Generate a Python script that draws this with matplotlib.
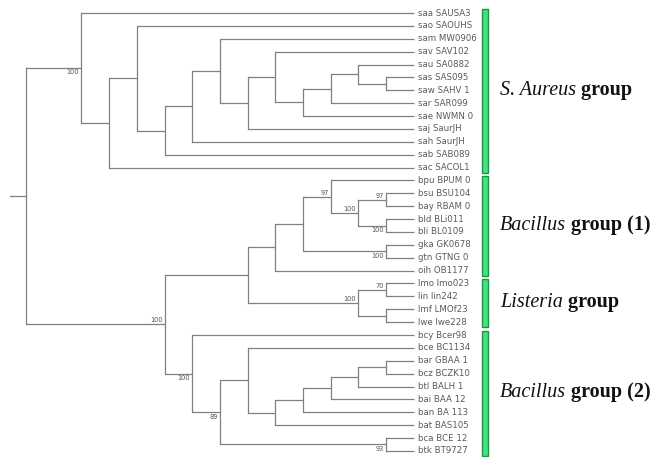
import re
import matplotlib
matplotlib.use("Agg")
import matplotlib.pyplot as plt

# tree topology (newick, bootstrap values after the closing bracket)
staph = "(saa,((sao,(((sam,((sav,(((sau,(sas,saw)),sar),sae)),saj)),sah),sab)),sac))100"
bac1 = "(((bpu,((bsu,bay)97,(bld,bli)100)100)97,(gka,gtn)100),oih)"
lister = "((lmo,lin)70,(lmf,lwe))100"
bac2 = "(bcy,((bce,(((((bar,bcz),btl),bai),ban),bat)),(bca,btk)93)89)100"
newick = "(" + staph + ",((" + bac1 + "," + lister + ")," + bac2 + ")100)"

leaf_codes = ["saa", "sao", "sam", "sav", "sau", "sas", "saw", "sar", "sae", "saj",
              "sah", "sab", "sac", "bpu", "bsu", "bay", "bld", "bli", "gka", "gtn",
              "oih", "lmo", "lin", "lmf", "lwe", "bcy", "bce", "bar", "bcz", "btl",
              "bai", "ban", "bat", "bca", "btk"]
leaf_ids = ["SAUSA3", "SAOUHS", "MW0906", "SAV102", "SA0882", "SAS095", "SAHV 1", "SAR099",
            "NWMN 0", "SaurJH", "SaurJH", "SAB089", "SACOL1", "BPUM 0", "BSU104", "RBAM 0",
            "BLi011", "BL0109", "GK0678", "GTNG 0", "OB1177", "lmo023", "lin242", "LMOf23",
            "lwe228", "Bcer98", "BC1134", "GBAA 1", "BCZK10", "BALH 1", "BAA 12", "BA 113",
            "BAS105", "BCE 12", "BT9727"]

group_names = ["S. Aureus", "Bacillus", "Listeria", "Bacillus"]
group_suffix = ["group", "group (1)", "group", "group (2)"]
group_first = ["saa", "bpu", "lmo", "bcy"]
group_last = ["sac", "oih", "lwe", "btk"]

# support labels drawn above the branch (the rest go below)
above = {"bpu", "bsu", "lmo"}


def parse(s):
    pos = 0

    def node():
        nonlocal pos
        if s[pos] == "(":
            pos += 1
            kids = [node()]
            while s[pos] == ",":
                pos += 1
                kids.append(node())
            pos += 1
            m = re.match(r"\d*", s[pos:]).group()
            pos += len(m)
            return {"kids": kids, "support": m}
        m = re.match(r"[a-z]+", s[pos:]).group()
        pos += len(m)
        return {"name": m}

    return node()


tree = parse(newick)

# layout in pixels
X0, STEP = 26, 27.7
Y0, DY = 13, 12.88
NLEV = 14
order = {c: i for i, c in enumerate(leaf_codes)}


def height(n):
    if "name" in n:
        return 0
    n["h"] = 1 + max(height(k) for k in n["kids"])
    return n["h"]


def layout(n):
    if "name" in n:
        n["y"] = Y0 + DY * order[n["name"]]
        n["x"] = X0 + STEP * NLEV
        n["first"] = n["name"]
        return
    for k in n["kids"]:
        layout(k)
    n["x"] = X0 + STEP * (NLEV - n["h"])
    n["y"] = (n["kids"][0]["y"] + n["kids"][-1]["y"]) / 2
    n["first"] = n["kids"][0]["first"]


height(tree)
layout(tree)
tree["x"] = X0

fig = plt.figure(figsize=(6.53, 4.57), dpi=100)
ax = fig.add_axes([0, 0, 1, 1])
ax.set_xlim(0, 653)
ax.set_ylim(457, 0)
ax.axis("off")

lc = "#808080"
lw = 0.9


def draw(n):
    if "name" in n:
        return
    ax.plot([n["x"], n["x"]], [n["kids"][0]["y"], n["kids"][-1]["y"]], color=lc, lw=lw,
            solid_capstyle="projecting")
    for k in n["kids"]:
        ax.plot([n["x"], k["x"]], [k["y"], k["y"]], color=lc, lw=lw, solid_capstyle="butt")
        draw(k)
    if n["support"] and n is not tree:
        if n["first"] in above:
            ax.text(n["x"] - 2, n["y"] - 1, n["support"], fontsize=4.8, color="#555555",
                    ha="right", va="bottom")
        else:
            ax.text(n["x"] - 2.5, n["y"] + 1.5, n["support"], fontsize=4.8, color="#555555",
                    ha="right", va="top")


draw(tree)
ax.plot([10, tree["x"]], [tree["y"], tree["y"]], color=lc, lw=lw)

for i, c in enumerate(leaf_codes):
    ax.text(418, Y0 + DY * i, c + " " + leaf_ids[i], fontsize=6.2, color="#5a5a5a",
            ha="left", va="center")

for name, suf, a, b in zip(group_names, group_suffix, group_first, group_last):
    ya = Y0 + DY * order[a]
    yb = Y0 + DY * order[b]
    ax.add_patch(plt.Rectangle((481.5, ya - 4), 6.5, yb - ya + 9, facecolor="#45e283",
                               edgecolor="#1f9444", lw=1.0))
    t1 = ax.text(500, (ya + yb) / 2, name, fontsize=14.5, family="Liberation Serif",
                 style="italic", ha="left", va="center", color="#111111")
    ax.annotate(" " + suf, xy=(1, 0), xycoords=t1, fontsize=14.5, family="Liberation Serif",
                weight="bold", ha="left", va="bottom", color="#111111")

fig.savefig("out.png", dpi=100)
